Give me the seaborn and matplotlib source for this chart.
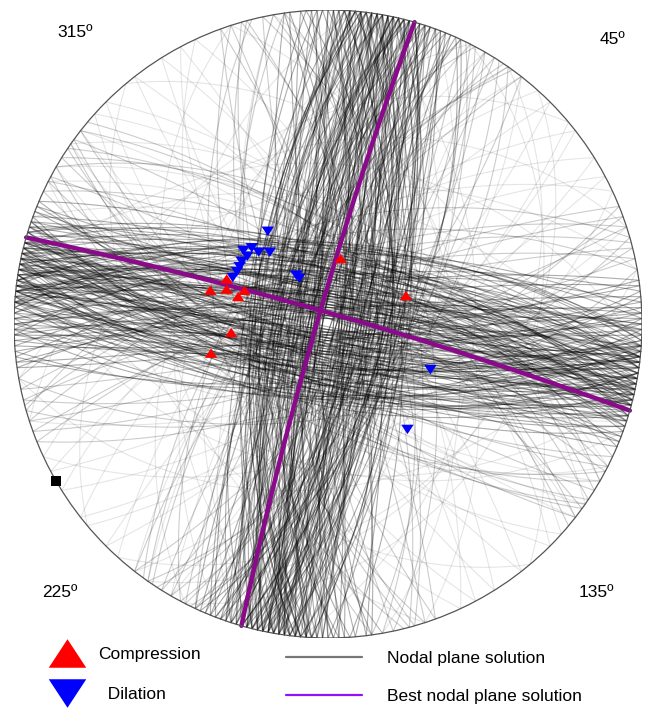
import numpy as np
import pandas as pd
import matplotlib
matplotlib.use("Agg")
import matplotlib.pyplot as plt
import seaborn as sns
from matplotlib.lines import Line2D

# ---- data: nodal planes (strike, dip; right-hand rule) ----
best_strike = [196, 286]
best_dip = [86, 86]

# dense N-S family
ns_strike = [352, 355, 357, 0, 2, 4, 5, 6, 7, 8, 9, 10, 11, 12, 13, 14, 15, 16, 17, 18,
             19, 20, 21, 22, 24, 3, 6, 9, 12, 15, 8, 11, 14, 5, 10, 13, 1, 7, 16, 19,
             172, 175, 178, 180, 182, 184, 185, 186, 187, 188, 189, 190, 191, 192, 193, 194, 195, 196, 197, 198,
             200, 202, 204, 183, 186, 189, 192, 195, 188, 191, 194, 181, 185, 190, 193, 187, 196, 199, 179, 184,
             353, 356, 358, 359, 1, 3, 4, 6, 8, 9, 10, 11, 12, 13, 14, 15, 16, 17, 18, 20,
             21, 23, 25, 2, 5, 7, 10, 12, 14, 18, 6, 9, 13, 4, 11, 15, 8, 3, 17, 22,
             173, 176, 177, 179, 181, 183, 184, 185, 186, 187, 188, 189, 190, 191, 192, 193, 194, 195, 197, 199,
             201, 203, 205, 182, 185, 188, 190, 192, 194, 186, 189, 193, 180, 184, 187, 191, 195, 198, 178, 183]
ns_dip = [80, 72, 86, 66, 84, 75, 63, 82, 70, 88, 68, 78, 85, 64, 81, 73, 87, 69, 79, 76,
          83, 67, 74, 89, 62, 77, 85, 71, 80, 65, 86, 73, 78, 61, 84, 70, 82, 76, 68, 87,
          75, 81, 64, 88, 72, 79, 66, 84, 70, 77, 83, 62, 86, 74, 80, 68, 85, 71, 78, 65,
          87, 69, 82, 76, 63, 84, 73, 79, 67, 88, 71, 80, 65, 85, 74, 60, 83, 77, 70, 86,
          78, 64, 85, 72, 81, 67, 88, 75, 62, 83, 70, 79, 86, 66, 74, 82, 69, 87, 73, 80,
          71, 84, 63, 78, 86, 68, 76, 82, 65, 89, 73, 80, 61, 85, 70, 77, 83, 67, 79, 75,
          84, 66, 80, 73, 87, 62, 78, 71, 85, 69, 82, 76, 64, 88, 72, 79, 67, 83, 74, 81,
          68, 86, 75, 81, 64, 83, 70, 88, 77, 63, 80, 72, 85, 66, 78, 84, 61, 76, 87, 73]

# dense E-W family
ew_strike = [262, 265, 268, 270, 272, 274, 275, 276, 277, 278, 279, 280, 281, 282, 283, 284, 285, 286, 287, 288,
             290, 292, 273, 276, 279, 282, 285, 271, 277, 283, 266, 289, 278, 281, 274, 287, 269, 284, 280, 276,
             82, 85, 88, 90, 92, 94, 95, 96, 97, 98, 99, 100, 101, 102, 103, 104, 105, 106, 107, 108,
             110, 112, 93, 96, 99, 102, 105, 91, 97, 103, 86, 109, 98, 101, 94, 107, 89, 104, 100, 96,
             263, 264, 267, 269, 271, 273, 274, 275, 276, 277, 278, 279, 280, 281, 282, 283, 284, 285, 286, 288,
             289, 291, 293, 270, 272, 275, 278, 281, 284, 287, 268, 274, 279, 283, 286, 277, 280, 282, 276, 285,
             83, 84, 87, 89, 91, 93, 94, 95, 96, 97, 98, 99, 100, 101, 102, 103, 104, 105, 106, 108,
             109, 111, 113, 90, 92, 95, 98, 101, 104, 107, 88, 94, 99, 103, 106, 97, 100, 102, 96, 105]
ew_dip = [77, 85, 65, 82, 71, 88, 68, 79, 84, 62, 75, 87, 70, 81, 66, 83, 73, 86, 64, 80,
          72, 86, 63, 80, 76, 69, 84, 78, 61, 87, 74, 82, 67, 85, 71, 79, 88, 65, 83, 70,
          84, 68, 79, 73, 87, 64, 81, 75, 86, 70, 62, 83, 77, 89, 66, 80, 72, 85, 69, 78,
          66, 82, 74, 88, 70, 78, 85, 63, 80, 76, 84, 71, 87, 65, 79, 73, 82, 68, 86, 75,
          81, 73, 87, 67, 84, 61, 78, 86, 72, 80, 65, 83, 76, 70, 88, 74, 79, 63, 85, 71,
          75, 88, 69, 83, 64, 80, 73, 86, 78, 67, 84, 62, 81, 77, 71, 87, 66, 82, 74, 79,
          86, 70, 80, 64, 85, 76, 82, 68, 88, 73, 79, 66, 84, 72, 61, 81, 75, 87, 69, 83,
          69, 83, 76, 86, 72, 65, 80, 84, 70, 78, 87, 74, 63, 82, 77, 85, 68, 79, 73, 88]

# broader solutions
mid_strike = [340, 345, 350, 25, 28, 32, 35, 38, 342, 348, 30, 26, 160, 165, 168, 205, 208, 212, 215, 218,
              162, 210, 166, 214, 170, 70, 74, 78, 115, 118, 122, 126, 72, 120, 76, 124, 250, 254, 258, 295,
              298, 302, 306, 252, 300, 256, 304, 128, 248, 310, 344, 352, 27, 33, 164, 172, 207, 216, 68, 80,
              117, 125, 255, 260, 297, 308]
mid_dip = [78, 70, 62, 75, 66, 80, 58, 72, 84, 55, 68, 60, 76, 64, 82, 70, 57, 79, 65, 73,
           60, 85, 52, 68, 63, 74, 61, 83, 69, 56, 77, 64, 81, 59, 71, 66, 79, 55, 72, 63,
           82, 58, 75, 67, 53, 80, 62, 70, 76, 65, 67, 58, 71, 63, 69, 60, 74, 61, 66, 57,
           72, 62, 68, 59, 73, 64]

faint_strike = [5, 20, 35, 50, 65, 80, 95, 110, 125, 140, 155, 170, 185, 200, 215, 230, 245, 260, 275, 290,
                305, 320, 335, 350, 12, 42, 72, 102, 132, 162, 192, 222, 252, 282, 312, 342, 27, 117, 207, 297,
                45, 135, 225, 315, 58, 148, 238, 328, 30, 120, 210, 300, 62, 152, 242, 332, 18, 108, 198, 288,
                52, 142, 232, 322, 38, 128, 218, 308]
faint_dip = [40, 55, 30, 65, 48, 35, 58, 42, 70, 33, 52, 62, 38, 45, 68, 28, 56, 44, 36, 60,
             50, 34, 64, 46, 54, 30, 66, 40, 57, 37, 49, 63, 31, 47, 59, 43, 25, 53, 41, 61,
             72, 64, 78, 58, 68, 75, 61, 70, 80, 66, 73, 57, 76, 62, 69, 79, 65, 71, 60, 74,
             67, 77, 63, 72, 59, 75, 68, 70]

# ---- data: first-motion polarities (azimuth, takeoff angle in degrees) ----
comp_az = [11, 70, 286, 294, 289, 287, 292, 265, 256]
comp_takeoff = [24.0, 29.6, 42.6, 38.9, 37.7, 33.3, 32.0, 34.4, 42.0]
dil_az = [327, 315, 316, 321, 311, 310, 306, 303, 300, 296, 327, 328, 114, 143]
dil_takeoff = [38.8, 37.9, 35.3, 32.8, 39.3, 37.1, 37.5, 37.1, 37.0, 37.3, 21.0, 19.5, 39.3, 45.6]
other_az = [240]
other_takeoff = [90]

angle_labels = ["315º", "45º", "225º", "135º"]
label_az = [319, 45, 225, 135]
label_r = [1.23, 1.28, 1.21, 1.21]


def great_circle(strike, dip, n=120):
    # lower hemisphere, stereographic projection
    s = np.radians(strike)
    d = np.radians(dip)
    t = np.linspace(0, np.pi, n)
    sv = np.array([np.sin(s), np.cos(s), 0.0])
    dv = np.array([np.cos(d) * np.sin(s + np.pi / 2), np.cos(d) * np.cos(s + np.pi / 2), np.sin(d)])
    v = np.outer(np.cos(t), sv) + np.outer(np.sin(t), dv)
    plunge = np.arcsin(np.clip(v[:, 2], -1, 1))
    trend = np.arctan2(v[:, 0], v[:, 1])
    r = np.tan((np.pi / 2 - plunge) / 2)
    return r * np.sin(trend), r * np.cos(trend)


def planes_frame(strikes, dips):
    parts = []
    for k, (s, d) in enumerate(zip(strikes, dips)):
        x, y = great_circle(s, d)
        parts.append(pd.DataFrame({"x": x, "y": y, "plane": k}))
    return pd.concat(parts, ignore_index=True)


def polarity_frame(az, takeoff):
    a = np.radians(az)
    r = np.tan(np.radians(takeoff) / 2)
    return pd.DataFrame({"x": r * np.sin(a), "y": r * np.cos(a)})


sns.set_style("white")
plt.rcParams["font.family"] = ["Liberation Sans", "DejaVu Sans"]
plt.rcParams["text.color"] = "black"

fig = plt.figure(figsize=(6.47, 7.09), dpi=100)
ax = fig.add_axes([14 / 647, 71 / 709, 628 / 647, 628 / 709])

# solution ensemble
for strikes, dips, alpha in [(faint_strike, faint_dip, 0.1),
                             (mid_strike, mid_dip, 0.2),
                             (ns_strike, ns_dip, 0.32),
                             (ew_strike, ew_dip, 0.32)]:
    sns.lineplot(data=planes_frame(strikes, dips), x="x", y="y", units="plane",
                 estimator=None, sort=False, color="black", alpha=alpha, lw=0.8,
                 legend=False, ax=ax)

# best solution
sns.lineplot(data=planes_frame(best_strike, best_dip), x="x", y="y", units="plane",
             estimator=None, sort=False, color="#8b0a8b", lw=3.2, legend=False, ax=ax)

ax.add_patch(plt.Circle((0, 0), 1, fill=False, lw=0.9, color="#555555", zorder=5))

tri = [(-1, -0.76), (1, -0.76), (0, 0.76), (-1, -0.76)]
tri_dn = [(-1, 0.76), (1, 0.76), (0, -0.76), (-1, 0.76)]
sns.scatterplot(data=polarity_frame(comp_az, comp_takeoff), x="x", y="y", marker=tri,
                s=80, color="red", edgecolor="none", zorder=6, ax=ax)
sns.scatterplot(data=polarity_frame(dil_az, dil_takeoff), x="x", y="y", marker=tri_dn,
                s=80, color="blue", edgecolor="none", zorder=6, ax=ax)
sns.scatterplot(data=polarity_frame(other_az, other_takeoff), x="x", y="y", marker="s",
                s=45, color="black", edgecolor="none", zorder=6, ax=ax)

for lab, a, r in zip(angle_labels, label_az, label_r):
    ax.text(r * np.sin(np.radians(a)), r * np.cos(np.radians(a)), lab,
            ha="center", va="center", fontsize=12.5, clip_on=False)

ax.set_xlim(-1, 1)
ax.set_ylim(-1, 1)
ax.set_axis_off()

# legends
h_pol = [Line2D([], [], ls="", marker=tri, markersize=27, color="red", markeredgecolor="none"),
         Line2D([], [], ls="", marker=tri_dn, markersize=27, color="blue", markeredgecolor="none")]
fig.legend(h_pol, ["Compression", "  Dilation"], loc="upper left",
           bbox_to_anchor=(48 / 647, 1 - 647 / 709), frameon=False, fontsize=12.5,
           borderpad=0, borderaxespad=0, handlelength=2.18, handletextpad=0.69,
           labelspacing=1.45, numpoints=1)
h_ln = [Line2D([], [], color="#777777", lw=1.6),
        Line2D([], [], color="#9010ff", lw=1.6)]
fig.legend(h_ln, ["Nodal plane solution", "Best nodal plane solution"], loc="upper left",
           bbox_to_anchor=(286 / 647, 1 - 651 / 709), frameon=False, fontsize=12.5,
           borderpad=0, borderaxespad=0, handlelength=4.37, handletextpad=1.44,
           labelspacing=1.3)

fig.savefig("out.png", dpi=100)
